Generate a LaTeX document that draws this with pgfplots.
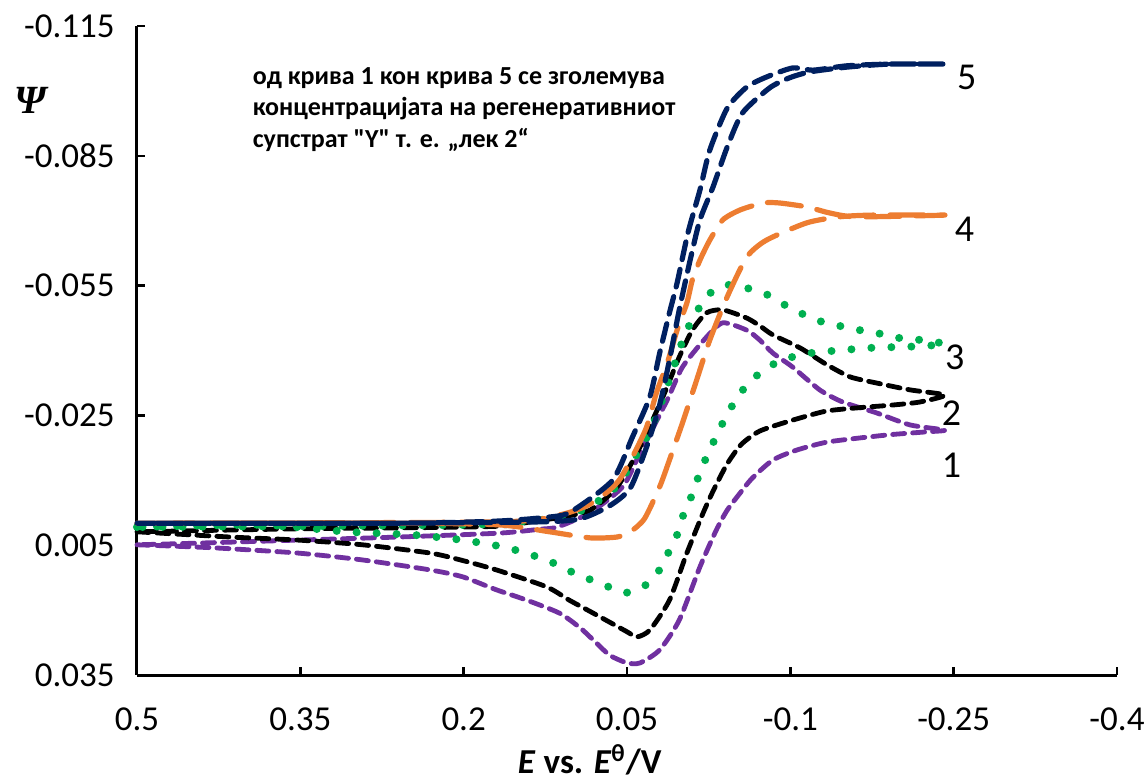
\documentclass[border=0pt]{standalone}
\usepackage{fontspec}
\setmainfont{Carlito}
\newfontfamily\cplain[Ligatures=TeXOff]{Carlito}
\newfontfamily\psifont{Liberation Serif}
\usepackage{pgfplots}
\pgfplotsset{compat=1.18}
\definecolor{cpurple}{HTML}{7030A0}
\definecolor{cgreen}{HTML}{00B050}
\definecolor{corange}{HTML}{ED7D31}
\definecolor{cnavy}{HTML}{002060}
\begin{document}
\begin{tikzpicture}
\begin{axis}[name=ax, scale only axis, width=490bp, height=324.5bp,
  x dir=reverse, y dir=reverse,
  xmin=-0.4, xmax=0.5, ymin=-0.115, ymax=0.035,
  axis x line*=bottom, axis y line*=left,
  axis line style={line width=1.5bp,-},
  tick align=inside, major tick length=4bp, tick style={line width=1.2bp, black},
  xtick={-0.4,-0.25,-0.1,0.05,0.2,0.35,0.5},
  xticklabels={-0.4,-0.25,-0.1,0.05,0.2,0.35,0.5},
  ytick={-0.115,-0.085,-0.055,-0.025,0.005,0.035},
  yticklabels={-0.115,-0.085,-0.055,-0.025,0.005,0.035},
  ticklabel style={font=\fontsize{17.5bp}{19bp}\selectfont},
  yticklabel style={inner sep=0pt, xshift=-11bp},
  xticklabel style={inner sep=0pt, yshift=-16bp},
  clip=false,
  every axis plot/.append style={smooth, tension=0.4, line cap=round, line join=round},
]
% curve 1 (purple)
\addplot[cpurple, line width=2.4bp, dash pattern=on 6bp off 4bp] coordinates {
(0.500,0.0049)(0.430,0.0056)(0.353,0.0068)(0.293,0.0084)(0.231,0.0107)(0.201,0.0123)
(0.170,0.0153)(0.142,0.0177)(0.112,0.0207)(0.093,0.0241)(0.081,0.0269)(0.066,0.0304)
(0.050,0.0322)(0.038,0.0322)(0.020,0.0292)(0.002,0.0223)(-0.017,0.0100)(-0.032,0.0015)
(-0.042,-0.0031)(-0.054,-0.0071)(-0.065,-0.0105)(-0.084,-0.0147)(-0.106,-0.0170)
(-0.133,-0.0188)(-0.164,-0.0198)(-0.194,-0.0206)(-0.225,-0.0212)(-0.242,-0.0216)
(-0.210,-0.0228)(-0.179,-0.0256)(-0.148,-0.0281)(-0.127,-0.0309)(-0.102,-0.0362)
(-0.084,-0.0394)(-0.072,-0.0424)(-0.060,-0.0447)(-0.038,-0.0464)(-0.023,-0.0431)
(-0.001,-0.0362)(0.013,-0.0286)(0.038,-0.0163)(0.054,-0.0085)(0.084,-0.0025)
(0.114,0.0008)(0.130,0.0013)(0.167,0.0022)(0.259,0.0031)(0.350,0.0038)(0.442,0.0045)(0.500,0.0049)
};
% curve 2 (black)
\addplot[black, line width=2.4bp, dash pattern=on 6bp off 4bp] coordinates {
(0.500,0.0019)(0.415,0.0031)(0.353,0.0038)(0.293,0.0049)(0.231,0.0068)(0.203,0.0084)
(0.170,0.0107)(0.124,0.0146)(0.103,0.0177)(0.081,0.0207)(0.050,0.0250)(0.041,0.0262)
(0.029,0.0246)(0.011,0.0177)(-0.005,0.0068)(-0.020,-0.0025)(-0.030,-0.0080)(-0.042,-0.0138)
(-0.055,-0.0183)(-0.072,-0.0214)(-0.102,-0.0239)(-0.133,-0.0260)(-0.164,-0.0268)
(-0.194,-0.0274)(-0.219,-0.0281)(-0.242,-0.0297)
(-0.210,-0.0309)(-0.179,-0.0325)(-0.155,-0.0339)(-0.133,-0.0368)(-0.109,-0.0406)
(-0.084,-0.0436)(-0.072,-0.0457)(-0.060,-0.0475)(-0.038,-0.0494)(-0.023,-0.0487)
(-0.010,-0.0447)(0.002,-0.0385)(0.017,-0.0293)(0.038,-0.0177)(0.059,-0.0085)
(0.084,-0.0031)(0.114,-0.0013)(0.130,-0.0008)(0.167,0.0006)(0.259,0.0010)(0.350,0.0012)(0.500,0.0019)
};
% curve 3 (green dots)
\addplot[cgreen, line width=4bp, dash pattern=on 0bp off 10bp] coordinates {
(0.500,0.0008)(0.384,0.0003)(0.307,0.0019)(0.247,0.0026)(0.201,0.0038)(0.160,0.0056)
(0.124,0.0084)(0.105,0.0107)(0.087,0.0126)(0.069,0.0144)(0.052,0.0160)(0.035,0.0146)
(0.022,0.0114)(0.013,0.0072)(0.004,0.0026)(-0.001,-0.0015)(-0.009,-0.0062)(-0.017,-0.0118)
(-0.025,-0.0165)(-0.038,-0.0233)(-0.047,-0.0274)(-0.058,-0.0314)(-0.072,-0.0348)
(-0.088,-0.0373)(-0.106,-0.0388)(-0.124,-0.0396)(-0.144,-0.0400)(-0.162,-0.0404)
(-0.180,-0.0407)(-0.199,-0.0408)(-0.219,-0.0410)(-0.242,-0.0415)
(-0.221,-0.0424)(-0.200,-0.0429)(-0.182,-0.0439)(-0.164,-0.0447)(-0.145,-0.0457)
(-0.127,-0.0468)(-0.109,-0.0487)(-0.093,-0.0508)(-0.078,-0.0530)(-0.056,-0.0547)
(-0.040,-0.0551)(-0.024,-0.0528)(-0.014,-0.0489)(-0.005,-0.0447)(0.002,-0.0401)
(0.008,-0.0355)(0.015,-0.0304)(0.027,-0.0223)(0.036,-0.0182)(0.055,-0.0101)(0.068,-0.0066)
(0.091,-0.0031)(0.112,-0.0015)(0.130,-0.0008)(0.167,-0.0001)(0.197,0.0003)(0.350,0.0006)(0.500,0.0008)
};
% curve 4 (orange long dash)
\addplot[corange, line width=2.6bp, dash pattern=on 17bp off 8bp] coordinates {
(0.500,-0.0001)(0.259,-0.0001)(0.167,0.0003)(0.121,0.0019)(0.084,0.0033)(0.059,0.0031)
(0.047,0.0019)(0.034,-0.0011)(0.020,-0.0085)(0.011,-0.0147)(-0.001,-0.0233)(-0.014,-0.0332)
(-0.026,-0.0424)(-0.042,-0.0524)(-0.060,-0.0616)(-0.078,-0.0655)(-0.115,-0.0695)
(-0.145,-0.0709)(-0.176,-0.0713)(-0.242,-0.0713)
(-0.161,-0.0709)(-0.136,-0.0718)(-0.115,-0.0732)(-0.090,-0.0741)(-0.075,-0.0741)
(-0.054,-0.0725)(-0.038,-0.0702)(-0.026,-0.0655)(-0.017,-0.0609)(-0.010,-0.0563)
(-0.005,-0.0510)(0.004,-0.0447)(0.013,-0.0371)(0.023,-0.0302)(0.032,-0.0223)
(0.045,-0.0154)(0.057,-0.0101)(0.069,-0.0071)(0.087,-0.0041)(0.112,-0.0020)(0.167,-0.0004)(0.500,-0.0001)
};
% curve 5 (navy dash)
\addplot[cnavy, line width=2.6bp, dash pattern=on 9bp off 5bp] coordinates {
(0.500,-0.0001)(0.259,-0.0001)(0.130,-0.0004)(0.093,-0.0011)(0.066,-0.0041)(0.047,-0.0082)
(0.032,-0.0177)(0.020,-0.0274)(0.011,-0.0378)(0.002,-0.0494)(-0.008,-0.0609)(-0.017,-0.0702)
(-0.029,-0.0778)(-0.042,-0.0870)(-0.056,-0.0949)(-0.081,-0.1007)(-0.099,-0.1030)
(-0.118,-0.1044)(-0.152,-0.1055)(-0.191,-0.1062)(-0.242,-0.1062)
(-0.191,-0.1062)(-0.152,-0.1058)(-0.121,-0.1048)(-0.102,-0.1053)(-0.078,-0.1032)
(-0.060,-0.1009)(-0.042,-0.0960)(-0.026,-0.0863)(-0.017,-0.0771)(-0.006,-0.0672)
(0.004,-0.0556)(0.011,-0.0487)(0.020,-0.0394)(0.029,-0.0293)(0.045,-0.0200)
(0.063,-0.0101)(0.096,-0.0036)(0.112,-0.0018)(0.167,-0.0006)(0.259,-0.0001)(0.500,-0.0001)
};
\node[font=\fontsize{19bp}{21bp}\selectfont, anchor=center] at (axis cs:-0.262,-0.103) {5};
\node[font=\fontsize{19bp}{21bp}\selectfont, anchor=center] at (axis cs:-0.260,-0.0679) {4};
\node[font=\fontsize{19bp}{21bp}\selectfont, anchor=center] at (axis cs:-0.251,-0.0385) {3};
\node[font=\fontsize{19bp}{21bp}\selectfont, anchor=center] at (axis cs:-0.248,-0.0256) {2};
\node[font=\fontsize{19bp}{21bp}\selectfont, anchor=center] at (axis cs:-0.248,-0.0135) {1};
\node[anchor=north west, inner sep=0pt, align=left, font=\fontsize{13bp}{15.8bp}\selectfont\bfseries]
  at (axis cs:0.394,-0.1055) {од крива 1 кон крива 5 се зголемува\\концентрацијата на регенеративниот\\супстрат {\cplain\bfseries "Y"} т. е. „лек 2“};
\node[font=\psifont\fontsize{20bp}{22bp}\selectfont\bfseries\itshape] at (axis description cs:-0.109,0.886) {Ψ};
\node[font=\fontsize{17.5bp}{19bp}\selectfont\bfseries, anchor=base] at (axis description cs:0.462,-0.1525)
  {\textit{E} vs. \textit{E}\textsuperscript{θ}/V};
\end{axis}
\pgfresetboundingbox
\path[use as bounding box] ([xshift=-68.5bp,yshift=-52.5bp]ax.south west) rectangle ([xshift=13.5bp,yshift=13bp]ax.north east);
\end{tikzpicture}
\end{document}
